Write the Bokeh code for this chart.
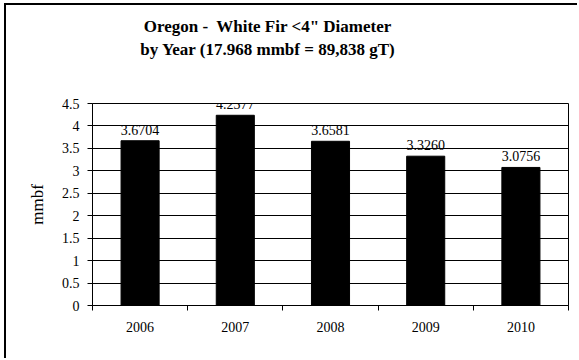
from bokeh.plotting import figure
from bokeh.models import ColumnDataSource, FixedTicker, Label, Range1d, Div
from bokeh.layouts import column
from bokeh.embed import file_html
from bokeh.resources import INLINE
import html

years = ["2006", "2007", "2008", "2009", "2010"]
values = [3.6704, 4.2377, 3.6581, 3.3260, 3.0756]
value_labels = ["3.6704", "4.2377", "3.6581", "3.3260", "3.0756"]
y_ticks = [0, 0.5, 1, 1.5, 2, 2.5, 3, 3.5, 4, 4.5]
y_tick_labels = ["0", "0.5", "1", "1.5", "2", "2.5", "3", "3.5", "4", "4.5"]
title_lines = ["Oregon -  White Fir <4\" Diameter", "by Year (17.968 mmbf = 89,838 gT)"]
y_title = "mmbf"

FONT = "Liberation Serif"
n = len(years)
xpos = [i + 0.5 for i in range(n)]

TITLE_H = 70
W = 571
H = 353

title_html = "<br>".join(html.escape(t).replace("  ", "&nbsp; ") for t in title_lines)
div = Div(text=(f'<div style="width:523px;text-align:center;font-family:\'{FONT}\';'
                f'font-weight:bold;font-size:17px;line-height:23px;padding-top:10px;'
                f'color:black;white-space:nowrap">{title_html}</div>'),
          width=W, height=TITLE_H, margin=(0, 0, 0, 0),
          styles={"background-color": "white"})

src = ColumnDataSource(dict(x=xpos, top=values, label=value_labels))

p = figure(width=W, height=H - TITLE_H, output_backend="svg", toolbar_location=None,
           x_range=Range1d(0, n), y_range=Range1d(0, 4.5),
           min_border_left=86, min_border_right=9, min_border_top=98 - TITLE_H,
           min_border_bottom=53, margin=(0, 0, 0, 0))

p.background_fill_color = "white"
p.border_fill_color = "white"
p.outline_line_color = "black"
p.outline_line_width = 1

p.vbar(x="x", top="top", width=0.4, source=src, fill_color="black", line_color="black")

for xv, v, lab in zip(xpos, values, value_labels):
    p.add_layout(Label(x=xv, y=v, text=lab, text_align="center",
                       text_baseline="alphabetic", y_offset=11, text_font=FONT,
                       text_font_size="14px", text_color="black"))

# x axis
p.xaxis.ticker = FixedTicker(ticks=xpos, minor_ticks=list(range(n + 1)))
p.xaxis.major_label_overrides = {x: y for x, y in zip(xpos, years)}
p.xaxis.major_tick_out = 0
p.xaxis.major_tick_in = 0
p.xaxis.minor_tick_out = 5
p.xaxis.minor_tick_in = 0
p.xaxis.minor_tick_line_color = "black"
p.xaxis.axis_line_color = "black"
p.xaxis.major_label_standoff = 11
p.xaxis.major_label_text_font = FONT
p.xaxis.major_label_text_font_size = "14px"
p.xaxis.major_label_text_color = "black"

# y axis
p.yaxis.ticker = FixedTicker(ticks=y_ticks, minor_ticks=[])
p.yaxis.major_label_overrides = {t: l for t, l in zip(y_ticks, y_tick_labels)}
p.yaxis.major_tick_out = 5
p.yaxis.major_tick_in = 0
p.yaxis.major_tick_line_color = "black"
p.yaxis.axis_line_color = "black"
p.yaxis.major_label_standoff = 8
p.yaxis.major_label_text_font = FONT
p.yaxis.major_label_text_font_size = "14px"
p.yaxis.major_label_text_color = "black"
p.yaxis.axis_label = y_title
p.yaxis.axis_label_text_font = FONT
p.yaxis.axis_label_text_font_style = "normal"
p.yaxis.axis_label_text_font_size = "17px"
p.yaxis.axis_label_text_color = "black"
p.yaxis.axis_label_standoff = 12

p.xgrid.grid_line_color = None
p.ygrid.grid_line_color = "black"
p.ygrid.grid_line_width = 1

layout = column(div, p, spacing=0,
                styles={"margin-left": "4px", "margin-top": "3px",
                        "border-top": "2px solid black", "border-left": "2px solid black"})

open("out.html", "w").write(file_html(layout, INLINE))
